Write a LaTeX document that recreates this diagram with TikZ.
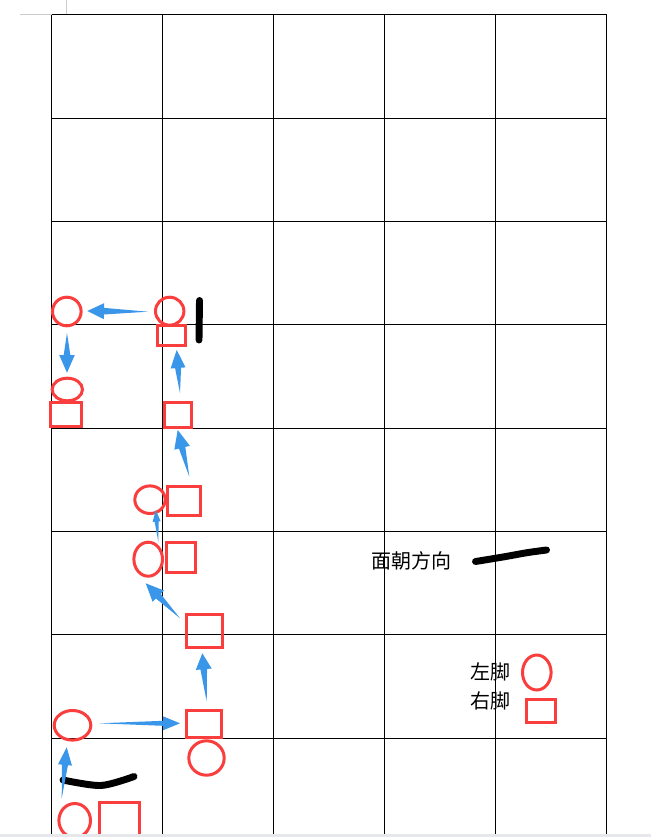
\documentclass[tikz,border=0pt]{standalone}
\usepackage{fontspec}
\newfontfamily\cjkfont{Noto Sans CJK SC}
\usetikzlibrary{calc,shapes.geometric}
\definecolor{footred}{RGB}{250,62,62}
\definecolor{arrowblue}{RGB}{58,150,232}
\definecolor{markgray}{RGB}{204,204,204}
\definecolor{bargray}{RGB}{230,232,236}
\tikzset{
  gridline/.style={line width=0.75pt, black},
  lf/.style 2 args={ellipse, draw=footred, line width=2.25pt, inner sep=0pt,
    minimum width=#1*0.75pt, minimum height=#2*0.75pt},
  rf/.style 2 args={rectangle, draw=footred, line width=2.25pt, inner sep=0pt,
    minimum width=#1*0.75pt, minimum height=#2*0.75pt},
  facing/.style={black, line width=5.2pt, line cap=round, line join=round},
  lbl/.style={font=\cjkfont\fontsize{15pt}{18pt}\selectfont, inner sep=0pt, anchor=west},
}
% tail, tip, head length, head half width, shaft half width (px)
\newcommand\footarrow[5]{%
  \coordinate (hb) at ($(#2)!#3*0.75pt!(#1)$);
  \fill[arrowblue] (#1) -- ($(hb)!#5*0.75pt!90:(#1)$) -- ($(hb)!#4*0.75pt!90:(#1)$)
    -- (#2) -- ($(hb)!#4*0.75pt!-90:(#1)$) -- ($(hb)!#5*0.75pt!-90:(#1)$) -- cycle;}
\begin{document}
\begin{tikzpicture}[x=0.75pt, y=-0.75pt]
\useasboundingbox (0,0) rectangle (651,837);
\fill[white] (0,0) rectangle (651,837);
% crop marks
\draw[markgray, line width=0.75pt] (66.7,0) -- (66.7,15);
\draw[markgray, line width=0.75pt] (20,15) -- (51.5,15);
% grid
\foreach \c in {0,...,5} {\draw[gridline] (51.5+111*\c,15) -- (51.5+111*\c,834);}
\foreach \r in {0,...,7} {\draw[gridline] (51.5,15+103.33*\r) -- (606.5,15+103.33*\r);}
% feet
\node[lf={28.6}{28.6}] (l1) at (66.8,311.5) {};
\node[lf={28.4}{28}] (l2) at (169.7,311.2) {};
\node[rf={28.3}{19.4}] (r1) at (171.65,335.5) {};
\node[lf={30.4}{22.6}] (l3) at (67.3,389.5) {};
\node[rf={30.4}{24.3}] (r2) at (66,414.65) {};
\node[rf={27.6}{25}] (r3) at (178,415) {};
\node[lf={30.4}{27.6}] (l4) at (150,499.7) {};
\node[rf={32.7}{28.7}] (r4) at (183.85,500.85) {};
\node[lf={28.6}{34}] (l5) at (148.2,559.2) {};
\node[rf={28.7}{30}] (r5) at (180.85,557.5) {};
\node[rf={36}{33}] (r6) at (204.5,631.3) {};
\node[lf={36.6}{29.6}] (l6) at (72.5,725.3) {};
\node[rf={35}{27}] (r7) at (204,724.3) {};
\node[lf={35.4}{34.4}] (l7) at (206.5,758) {};
\node[lf={31.6}{34}] (l8) at (74.7,820.5) {};
\node[rf={39.4}{39}] (r8) at (119.5,822) {};
% legend
\node[lf={28.6}{35}] (legl) at (536.8,672.5) {};
\node[rf={29.3}{23}] (legr) at (541.15,711.3) {};
\node[lbl] (tface) at (371.5,561) {面朝方向};
\node[lbl] (tleft) at (470.5,672) {左脚};
\node[lbl] (tright) at (470.5,701) {右脚};
% facing strokes
\draw[facing] (199.5,300.5) -- (199,340);
\draw[facing] plot[smooth] coordinates {(63,780) (101,785.5) (134,776.5)};
\draw[facing] plot[smooth] coordinates {(475.5,561.5) (503,557) (527,552.7) (546.5,550)};
% arrow end points
\coordinate (a1s) at (148,311.7);   \coordinate (a1e) at (87.3,311);
\coordinate (a2s) at (67,333);      \coordinate (a2e) at (67,372.7);
\coordinate (a3s) at (180,393);     \coordinate (a3e) at (176.7,350);
\coordinate (a4s) at (189.3,476.7); \coordinate (a4e) at (177.7,430);
\coordinate (a5s) at (158.3,541.7); \coordinate (a5e) at (155.7,510);
\coordinate (a6s) at (180,618.3);   \coordinate (a6e) at (145.7,583.3);
\coordinate (a7s) at (206.7,701.7); \coordinate (a7e) at (202.3,653.3);
\coordinate (a8s) at (99,723.3);    \coordinate (a8e) at (180,723.3);
\coordinate (a9s) at (61.7,798.3);  \coordinate (a9e) at (66.7,747.3);
\footarrow{a1s}{a1e}{16.7}{8}{3.3}
\footarrow{a2s}{a2e}{17.7}{7.8}{3.3}
\footarrow{a3s}{a3e}{18}{7.5}{3}
\footarrow{a4s}{a4e}{18.3}{8}{3.3}
\footarrow{a5s}{a5e}{11.7}{4}{2}
\footarrow{a6s}{a6e}{18}{8}{3.3}
\footarrow{a7s}{a7e}{16}{8}{3.3}
\footarrow{a8s}{a8e}{17}{7}{2.5}
\footarrow{a9s}{a9e}{17.7}{7}{3}
% bottom bar
\fill[bargray] (0,834) rectangle (651,837);
\end{tikzpicture}
\end{document}
